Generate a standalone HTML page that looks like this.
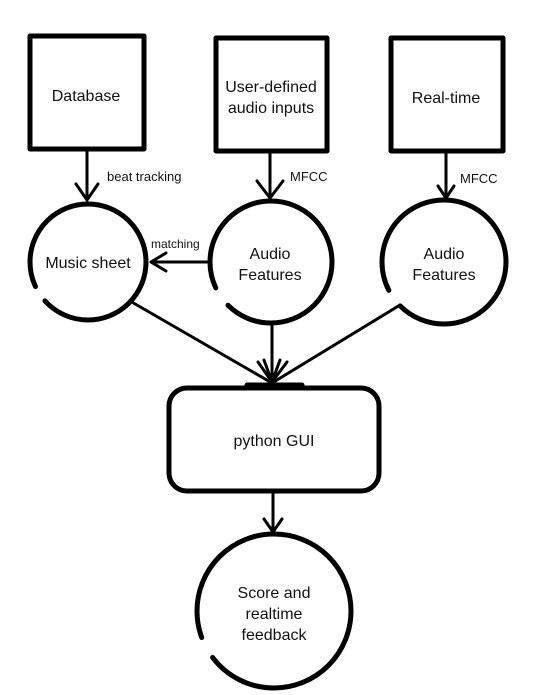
<!DOCTYPE html>
<html><head><meta charset="utf-8"><style>
html,body{margin:0;padding:0;background:#fff;}
svg{display:block;}
text{font-family:"Liberation Sans",sans-serif;fill:#111;text-anchor:middle;}
</style></head><body>
<svg width="549" height="695" viewBox="0 0 549 695" xmlns="http://www.w3.org/2000/svg">
<g fill="none" stroke="#000" stroke-width="5" stroke-linecap="round" stroke-linejoin="round">
<rect x="30" y="36" width="114" height="113"/>
<rect x="216" y="38" width="111" height="113"/>
<rect x="391" y="38" width="112" height="113"/>
<circle cx="88" cy="262" r="58" pathLength="360" stroke-dasharray="138 17 300"/>
<circle cx="271" cy="262" r="61" pathLength="360" stroke-dasharray="135 20 300"/>
<circle cx="444" cy="262" r="62" pathLength="360" stroke-dasharray="135 18 300"/>
<rect x="169" y="388" width="210" height="103" rx="18"/>
<circle cx="274" cy="611" r="77" pathLength="360" stroke-dasharray="143 17 300"/>
</g>
<g fill="none" stroke="#000" stroke-width="3" stroke-linecap="round" stroke-linejoin="round">
<path d="M87 150 V200 M76 184 L87 200 L98 184"/>
<path d="M270 152 V198 M257 181 L270 198 L283 181"/>
<path d="M446 152 V198 M438 186 L446 198 L454 186"/>
<path d="M210 262 H151 M166 253 L151 262 L166 271"/>
<path d="M130 301 L272 383"/>
<path d="M272 323 V383"/>
<path d="M400 305 L272 383"/>
<path d="M258 362 L272 382 L264 360 M287 362 L272 382 L280 360"/>
<path d="M247 385 H302" stroke-width="5"/>
<path d="M273 492 V532 M264 519 L273 532 L282 519"/>
</g>
<text x="86" y="101" font-size="16">Database</text>
<text x="271" y="92" font-size="16">User-defined</text>
<text x="271" y="113" font-size="16">audio inputs</text>
<text x="446" y="103" font-size="16">Real-time</text>
<text x="88" y="268" font-size="16">Music sheet</text>
<text x="270" y="259" font-size="16">Audio</text>
<text x="270" y="280" font-size="16">Features</text>
<text x="444" y="259" font-size="16">Audio</text>
<text x="444" y="280" font-size="16">Features</text>
<text x="274" y="446" font-size="16">python GUI</text>
<text x="274" y="598" font-size="16">Score and</text>
<text x="274" y="619" font-size="16">realtime</text>
<text x="274" y="640" font-size="16">feedback</text>
<text x="107" y="181" font-size="13" style="text-anchor:start">beat tracking</text>
<text x="290" y="181" font-size="13" style="text-anchor:start">MFCC</text>
<text x="460" y="183" font-size="13" style="text-anchor:start">MFCC</text>
<text x="151" y="248" font-size="12" style="text-anchor:start">matching</text>
</svg>
</body></html>
